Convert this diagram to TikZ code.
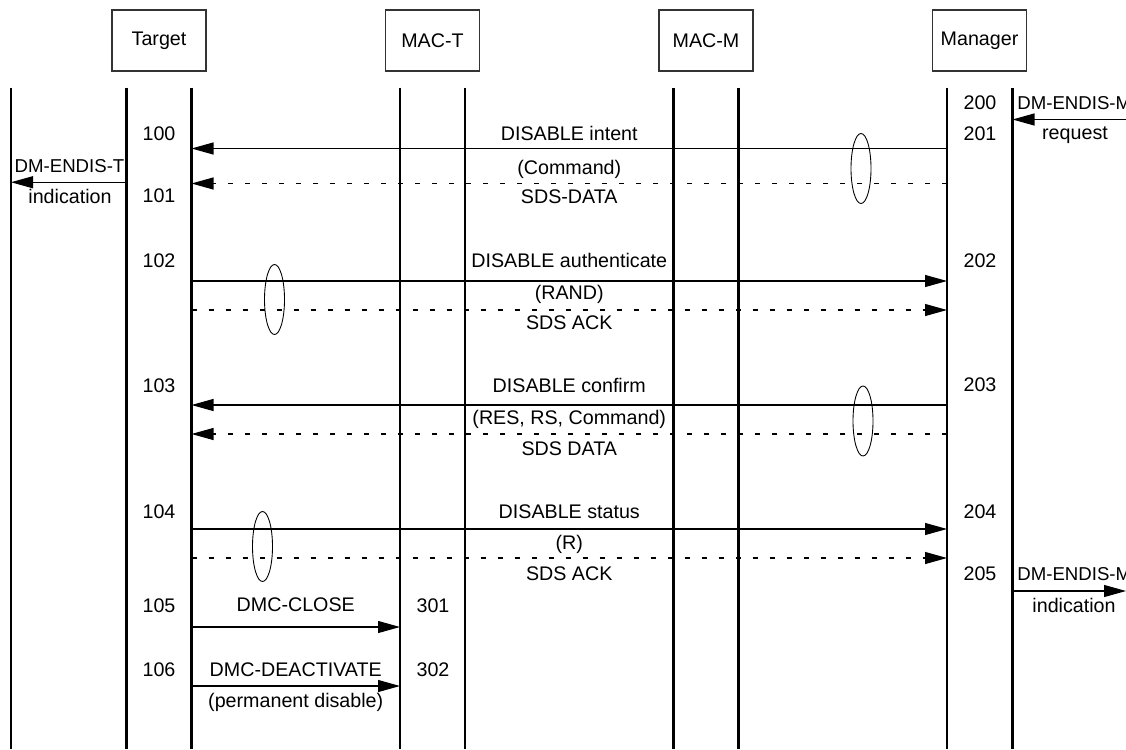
\documentclass[tikz,border=0pt]{standalone}
\usepackage{fontspec}
\setmainfont{Liberation Sans}
\usetikzlibrary{arrows.meta}

\begin{document}
\begin{tikzpicture} [
      every node/.style={font=\fontsize{11.2}{13.4}\selectfont},
      actor/.style={draw=black!80, line width=0.6pt, rectangle, minimum width=1.88cm, minimum height=1.22cm},
      life/.style={line width=1.6pt},
      msg/.style={line width=0.6pt, -{Triangle[length=4.4mm, width=2.4mm]}},
      ack/.style={dash pattern=on 0.1cm off 0.24cm},
      txt/.style={inner sep=0pt, text height=1.5ex, text depth=0.25ex},
      prim/.style={txt, font=\fontsize{10.6}{12.7}\selectfont},
      bubble/.style={line width=0.5pt}
   ]
    \useasboundingbox (0, 0) rectangle (22.52, -14.98);

    \node[actor] (ndTarget) at (3.18, -0.81) {Target};
    \node[actor, right of=ndTarget, node distance=5.47cm] (ndMacT) {MAC-T};
    \node[actor, right of=ndMacT, node distance=5.47cm] (ndMacM) {MAC-M};
    \node[actor, right of=ndMacM, node distance=5.47cm] (ndManager) {Manager};

    \coordinate (usrT) at (0.22, -1.75);
    \coordinate (tgtA) at (2.53, -1.75);
    \coordinate (tgtB) at (3.83, -1.75);
    \coordinate (mactA) at (8.0, -1.75);
    \coordinate (mactB) at (9.3, -1.75);
    \coordinate (macmA) at (13.47, -1.75);
    \coordinate (macmB) at (14.77, -1.75);
    \coordinate (mgrA) at (18.94, -1.75);
    \coordinate (mgrB) at (20.25, -1.75);
    \coordinate (usrM) at (22.52, -1.75);

    \draw[life] (usrT) -- (usrT |- 0, -14.98);
    \draw[life] (tgtA) -- (tgtA |- 0, -14.98);
    \draw[life] (tgtB) -- (tgtB |- 0, -14.98);
    \draw[life] (mactA) -- (mactA |- 0, -14.98);
    \draw[life] (mactB) -- (mactB |- 0, -14.98);
    \draw[life] (macmA) -- (macmA |- 0, -14.98);
    \draw[life] (macmB) -- (macmB |- 0, -14.98);
    \draw[life] (mgrA) -- (mgrA |- 0, -14.98);
    \draw[life] (mgrB) -- (mgrB |- 0, -14.98);

    % primitives at the user side
    \node[prim, anchor=west] (dmM1) at (20.34, -2.08) {DM-ENDIS-M};
    \draw[msg] (usrM |- 0, -2.39) -- (mgrB |- 0, -2.39);
    \node[txt] (req) at (21.5, -2.68) {request};

    \node[prim] (dmT) at (1.39, -3.33) {DM-ENDIS-T};
    \draw[msg] (tgtA |- 0, -3.645) -- (usrT |- 0, -3.645);
    \node[txt] (indT) at (1.4, -3.95) {indication};

    \node[prim, anchor=west] (dmM2) at (20.34, -11.5) {DM-ENDIS-M};
    \draw[msg] (mgrB |- 0, -11.82) -- (usrM |- 0, -11.82);
    \node[txt] (indM) at (21.48, -12.14) {indication};

    % intent
    \node[txt] (n200) at (19.6, -2.08) {200};
    \node[txt] (n100) at (3.18, -2.7) {100};
    \node[txt] (n201) at (19.6, -2.69) {201};
    \node[txt] (n101) at (3.18, -3.94) {101};
    \draw[msg] (mgrA |- 0, -2.97) -- (tgtB |- 0, -2.97);
    \draw[msg, ack] (mgrA |- 0, -3.67) -- (tgtB |- 0, -3.67);
    \node[txt] (t100) at (11.385, -2.7) {DISABLE intent};
    \node[txt] (p100) at (11.385, -3.37) {(Command)};
    \node[txt] (s100) at (11.385, -3.95) {SDS-DATA};
    \draw[bubble] (17.22, -3.37) ellipse (0.2cm and 0.7cm);

    % authenticate
    \node[txt] (n102) at (3.18, -5.24) {102};
    \node[txt] (n202) at (19.6, -5.23) {202};
    \draw[msg] (tgtB |- 0, -5.62) -- (mgrA |- 0, -5.62);
    \draw[msg, ack] (tgtB |- 0, -6.2) -- (mgrA |- 0, -6.2);
    \node[txt] (t102) at (11.385, -5.24) {DISABLE authenticate};
    \node[txt] (p102) at (11.385, -5.87) {(RAND)};
    \node[txt] (s102) at (11.385, -6.48) {SDS ACK};
    \draw[bubble] (5.49, -5.99) ellipse (0.2cm and 0.7cm);

    % confirm
    \node[txt] (n103) at (3.18, -7.73) {103};
    \node[txt] (n203) at (19.6, -7.72) {203};
    \draw[msg] (mgrA |- 0, -8.1) -- (tgtB |- 0, -8.1);
    \draw[msg, ack] (mgrA |- 0, -8.68) -- (tgtB |- 0, -8.68);
    \node[txt] (t103) at (11.385, -7.73) {DISABLE confirm};
    \node[txt] (p103) at (11.385, -8.38) {(RES, RS, Command)};
    \node[txt] (s103) at (11.385, -8.99) {SDS DATA};
    \draw[bubble] (17.26, -8.42) ellipse (0.2cm and 0.7cm);

    % status
    \node[txt] (n104) at (3.18, -10.26) {104};
    \node[txt] (n204) at (19.6, -10.26) {204};
    \node[txt] (n205) at (19.6, -11.5) {205};
    \draw[msg] (tgtB |- 0, -10.58) -- (mgrA |- 0, -10.58);
    \draw[msg, ack] (tgtB |- 0, -11.16) -- (mgrA |- 0, -11.16);
    \node[txt] (t104) at (11.385, -10.26) {DISABLE status};
    \node[txt] (p104) at (11.385, -10.88) {(R)};
    \node[txt] (s104) at (11.385, -11.5) {SDS ACK};
    \draw[bubble] (5.25, -10.93) ellipse (0.2cm and 0.7cm);

    % local close
    \node[txt] (n105) at (3.18, -12.14) {105};
    \node[txt] (n301) at (8.66, -12.14) {301};
    \draw[msg] (tgtB |- 0, -12.54) -- node[txt, above=0.26cm] (t105) {DMC-CLOSE} (mactA |- 0, -12.54);
    \node[txt] (n106) at (3.18, -13.41) {106};
    \node[txt] (n302) at (8.66, -13.41) {302};
    \draw[msg] (tgtB |- 0, -13.72) -- (mactA |- 0, -13.72);
    \node[txt] (t106) at (5.915, -13.41) {DMC-DEACTIVATE};
    \node[txt] (p106) at (5.915, -14.03) {(permanent disable)};

  \end{tikzpicture}
\end{document}
